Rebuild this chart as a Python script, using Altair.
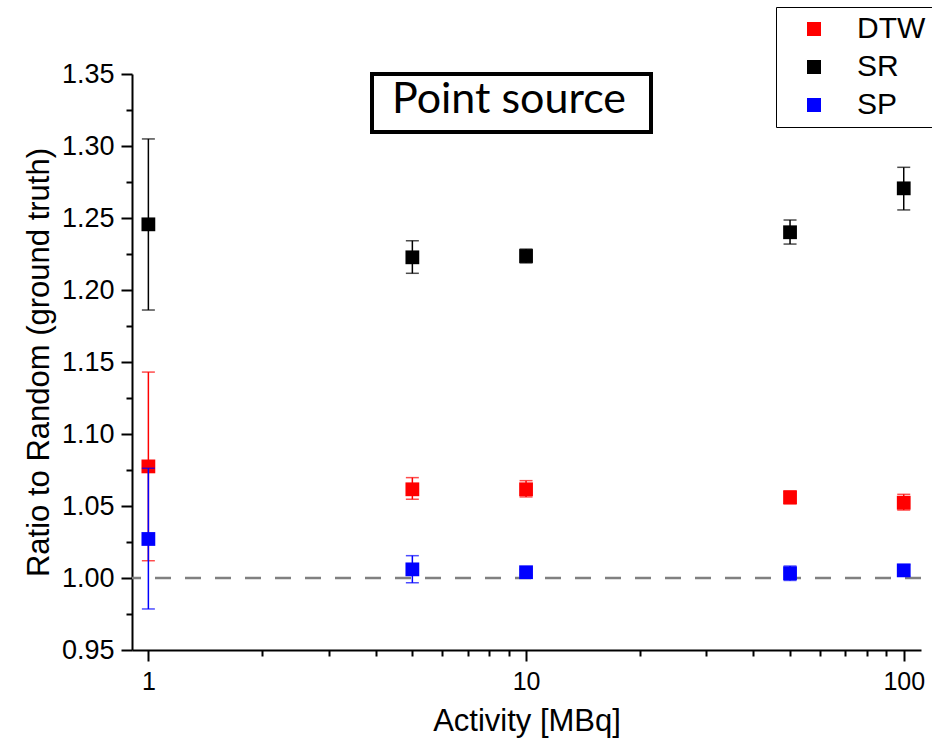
import altair as alt
import pandas as pd

# ---- data ----
activity = [1, 5, 10, 50, 100]
series_names = ["DTW", "SR", "SP"]
series_colors = ["#ff0000", "#000000", "#0000ff"]

dtw = [1.0775, 1.0616, 1.0616, 1.0560, 1.0523]
dtw_lo = [1.0120, 1.0547, 1.0563, 1.0515, 1.0472]
dtw_hi = [1.1430, 1.0697, 1.0676, 1.0605, 1.0581]

sr = [1.2456, 1.2227, 1.2236, 1.2401, 1.2706]
sr_lo = [1.1861, 1.2116, 1.2188, 1.2319, 1.2556]
sr_hi = [1.3049, 1.2342, 1.2284, 1.2486, 1.2852]

sp = [1.0271, 1.0060, 1.0040, 1.0033, 1.0053]
sp_lo = [0.9785, 0.9967, 1.0020, 0.9983, 1.0013]
sp_hi = [1.0762, 1.0155, 1.0060, 1.0083, 1.0093]

baseline = [1.0]
title_text = ["Point source"]

x_tick_values = [1, 2, 3, 4, 5, 6, 7, 8, 9, 10, 20, 30, 40, 50, 60, 70, 80, 90, 100]
y_tick_values = [0.95, 0.975, 1.0, 1.025, 1.05, 1.075, 1.1, 1.125, 1.15, 1.175,
                 1.2, 1.225, 1.25, 1.275, 1.3, 1.325, 1.35]

# ---- table ----
rows = []
for name, vals, lo, hi in [("DTW", dtw, dtw_lo, dtw_hi),
                           ("SR", sr, sr_lo, sr_hi),
                           ("SP", sp, sp_lo, sp_hi)]:
    for a, v, l, h in zip(activity, vals, lo, hi):
        rows.append({"activity": a, "value": v, "lo": l, "hi": h, "series": name})
df = pd.DataFrame(rows)

FONT = "Liberation Sans"

x_scale = alt.Scale(type="log", domain=[0.905, 111.1], nice=False)
y_scale = alt.Scale(domain=[0.95, 1.35], nice=False, zero=False)

x_major = "(datum.value == 1 || datum.value == 10 || datum.value == 100)"
y_major = "(abs(datum.value * 20 - round(datum.value * 20)) < 0.001)"

x_axis = alt.Axis(
    values=x_tick_values,
    labelExpr=f"{x_major} ? format(datum.value, 'd') : ''",
    tickSize={"condition": {"test": x_major, "value": 11}, "value": 6},
    title="Activity [MBq]",
    grid=False,
    domainColor="black", domainWidth=2,
    tickColor="black", tickWidth=2,
    labelFont=FONT, labelFontSize=25, labelColor="black",
    labelPadding=8, labelOverlap=False, labelFlush=False,
    titleFont=FONT, titleFontSize=31, titleFontWeight="normal", titleColor="black",
    titlePadding=12,
)
y_axis = alt.Axis(
    values=y_tick_values,
    labelExpr=f"{y_major} ? format(datum.value, '.2f') : ''",
    tickSize={"condition": {"test": y_major, "value": 11}, "value": 6},
    title="Ratio to Random (ground truth)",
    grid=False,
    domainColor="black", domainWidth=2,
    tickColor="black", tickWidth=2,
    labelFont=FONT, labelFontSize=27, labelColor="black",
    labelPadding=7, labelOverlap=False, labelFlush=False,
    titleFont=FONT, titleFontSize=31, titleFontWeight="normal", titleColor="black",
    titlePadding=6,
)

X = alt.X("activity:Q", scale=x_scale, axis=x_axis)
Y = alt.Y("value:Q", scale=y_scale, axis=y_axis)

legend = alt.Legend(
    orient="none", legendX=644, legendY=-67, title=None,
    symbolType="square", symbolSize=196, symbolStrokeWidth=0,
    labelFont=FONT, labelFontSize=30, labelColor="black",
    padding=7, symbolOffset=16, labelOffset=28, rowPadding=8,
    strokeColor="black", fillColor="white", cornerRadius=0,
)
color_scale = alt.Scale(domain=series_names, range=series_colors)

base_rule = alt.Chart(pd.DataFrame({"value": baseline})).mark_rule(
    color="#808080", strokeWidth=2.5, strokeDash=[16, 14]
).encode(y=alt.Y("value:Q", scale=y_scale, axis=y_axis))

layers = [base_rule]
for name, col in zip(series_names, series_colors):
    sub = alt.Chart(df).transform_filter(alt.datum.series == name)
    bar = sub.mark_rule(color=col, strokeWidth=1.5).encode(
        x=X, y=alt.Y("lo:Q", scale=y_scale, axis=y_axis), y2="hi:Q")
    cap_lo = sub.mark_tick(color=col, size=13, thickness=1.5, orient="horizontal").encode(
        x=X, y=alt.Y("lo:Q", scale=y_scale, axis=y_axis))
    cap_hi = sub.mark_tick(color=col, size=13, thickness=1.5, orient="horizontal").encode(
        x=X, y=alt.Y("hi:Q", scale=y_scale, axis=y_axis))
    pts = sub.mark_square(size=190, opacity=1).encode(
        x=X, y=Y,
        color=alt.Color("series:N", scale=color_scale, legend=legend))
    layers += [bar, cap_lo, cap_hi, pts]

tdf = pd.DataFrame({"t": title_text})
title_box = alt.Chart(tdf).mark_rect(fill="white", stroke="black", strokeWidth=4).encode(
    x=alt.value(240), x2=alt.value(519), y=alt.value(0), y2=alt.value(58))
title_txt = alt.Chart(tdf).mark_text(
    font="Lato", fontSize=43, align="center", baseline="alphabetic", color="black"
).encode(x=alt.value(377), y=alt.value(39), text="t:N")
layers += [title_box, title_txt]

chart = alt.layer(*layers).properties(
    width=789, height=576,
    autosize=alt.AutoSizeParams(type="none"),
    padding={"left": 132, "top": 74, "right": 11, "bottom": 96},
    background="white",
).configure_view(stroke=None)

chart.save("out.html", embed_options={"renderer": "svg", "actions": False})
